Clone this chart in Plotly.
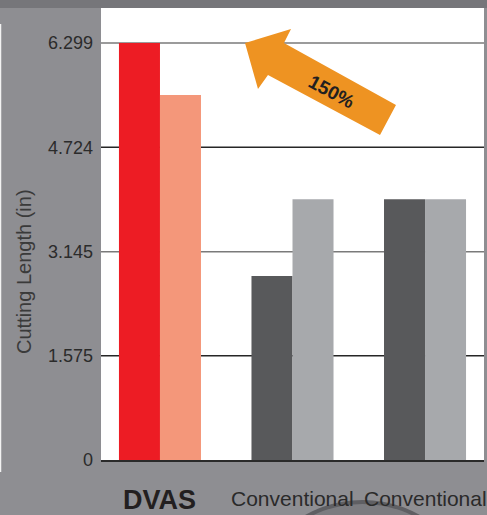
import plotly.graph_objects as go

# ---- data ----
categories = ["DVAS", "Conventional<br>A", "Conventional<br>B"]
series_1 = [6.299, 2.78, 3.937]
series_2 = [5.512, 3.937, 3.937]
colors_1 = ["#ED1C24", "#58595B", "#58595B"]
colors_2 = ["#F4977A", "#A7A9AC", "#A7A9AC"]
y_ticks = [0, 1.575, 3.145, 4.724, 6.299]
y_tick_labels = ["0", "1.575", "3.145", "4.724", "6.299"]
y_title = "Cutting Length (in)"
arrow_label = "150%"

W, H = 487, 515
L, R, T, B = 101, 3, 7, 55
pw, ph = W - L - R, H - T - B

def px(x):
    return (x - L) / pw

def py(y):
    return (H - B - y) / ph

xs = list(range(len(categories)))

fig = go.Figure()
fig.add_trace(go.Bar(x=xs, y=series_1, marker=dict(color=colors_1, line=dict(width=0)),
                     showlegend=False, hoverinfo="skip"))
fig.add_trace(go.Bar(x=xs, y=series_2, marker=dict(color=colors_2, line=dict(width=0)),
                     showlegend=False, hoverinfo="skip"))

shapes = []
# gridlines: alternating grey / dark
for k in range(1, len(y_ticks)):
    col = "#262626" if k % 2 == 1 else "#7a7a7a"
    shapes.append(dict(type="line", xref="x domain", yref="y", x0=0, x1=1, y0=y_ticks[k], y1=y_ticks[k],
                       line=dict(color=col, width=1.6), layer="below"))
# top darker band
shapes.append(dict(type="rect", xref="paper", yref="paper", x0=px(0), x1=px(W), y0=py(0), y1=py(8),
                   fillcolor="#76767a", line=dict(width=0), layer="below"))
# disk in bottom-right background
shapes.append(dict(type="circle", xref="paper", yref="paper", x0=px(255), x1=px(470), y0=py(700), y1=py(502),
                   fillcolor="#7c7c80", line=dict(color="#5f5f63", width=4), layer="below"))
# thin light line at left
shapes.append(dict(type="line", xref="paper", yref="paper", x0=px(0.5), x1=px(0.5), y0=py(24), y1=py(472),
                   line=dict(color="#f2f2f2", width=1.5), layer="below"))
# orange block arrow
pts = [(245, 43), (291, 29), (284, 43), (396, 105), (380, 135), (268, 75), (258, 89)]
path = "M " + " L ".join(f"{px(a):.4f},{py(b):.4f}" for a, b in pts) + " Z"
shapes.append(dict(type="path", xref="paper", yref="paper", path=path,
                   fillcolor="#EE9322", line=dict(width=0), layer="above"))

annotations = []
for i, c in enumerate(categories):
    if i == 0:
        txt = f"<b>{c}</b>"
        f = dict(family="Liberation Sans, Arial, sans-serif", size=27, color="#231F20")
        ys = -23
    else:
        txt = c
        f = dict(family="Liberation Sans, Arial, sans-serif", size=21, color="#2a2a2a")
        ys = -25
    annotations.append(dict(x=i, y=0, xref="x", yref="paper", text=txt, showarrow=False,
                            yanchor="top", xanchor="center", yshift=ys, font=f, align="center"))
annotations.append(dict(x=px(24), y=py(272), xref="paper", yref="paper", text=y_title, showarrow=False,
                        textangle=-90, xanchor="center", yanchor="middle",
                        font=dict(family="Liberation Sans, Arial, sans-serif", size=20, color="#3a3a3a")))
annotations.append(dict(x=px(331), y=py(92), xref="paper", yref="paper", text=f"<b>{arrow_label}</b>",
                        showarrow=False, textangle=28, xanchor="center", yanchor="middle",
                        font=dict(family="Liberation Sans, Arial, sans-serif", size=19, color="#231F20")))

fig.update_layout(
    width=W, height=H,
    margin=dict(l=L, r=R, t=T, b=B, pad=0),
    paper_bgcolor="#8e8e92",
    plot_bgcolor="#ffffff",
    barmode="group", bargap=0.381, bargroupgap=0,
    shapes=shapes, annotations=annotations,
    xaxis=dict(range=[-0.445, 2.445], showticklabels=False, showgrid=False, zeroline=False,
               showline=True, linecolor="#2a2a2a", linewidth=2, ticks="", fixedrange=True),
    yaxis=dict(range=[0, 6.842], tickvals=y_ticks, ticktext=y_tick_labels, showgrid=False,
               zeroline=False, showline=False, ticks="", ticklabelstandoff=7,
               tickfont=dict(family="Liberation Sans, Arial, sans-serif", size=18, color="#2b2b2b")),
)

fig.write_html("out.html", config={"displayModeBar": False},
               post_script="document.body.style.margin='0';document.body.style.overflow='hidden';")
